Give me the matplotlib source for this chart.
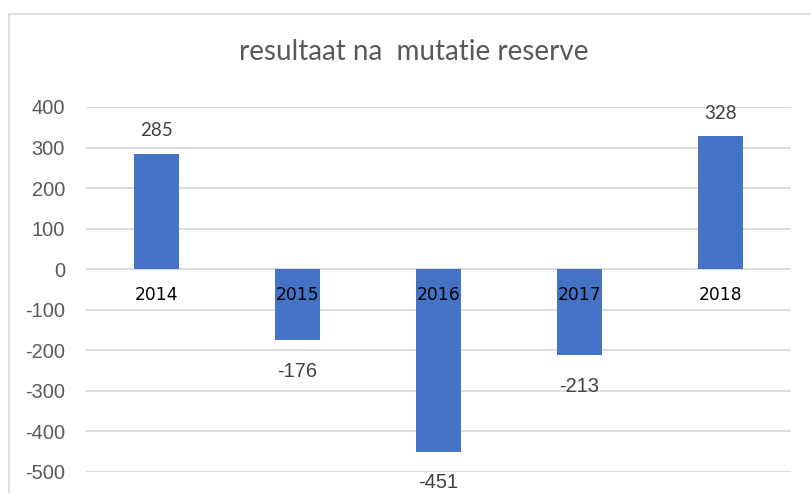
import matplotlib.pyplot as plt
from matplotlib.patches import Rectangle

years = ['2014', '2015', '2016', '2017', '2018']
values = [285, -176, -451, -213, 328]
yticks = [-500, -400, -300, -200, -100, 0, 100, 200, 300, 400]

W, H = 811, 493
fig = plt.figure(figsize=(W / 100, H / 100), dpi=100)
ax = fig.add_axes([86 / W, 1 - 471.7 / H, (791 - 86) / W, (471.7 - 107) / H])

x = range(len(years))
ax.bar(x, values, width=0.32, color='#4472C4', zorder=3)
ax.set_xlim(-0.5, len(years) - 0.5)
ax.set_ylim(-500, 400)
ax.set_yticks(yticks)
ax.set_yticklabels([str(t) for t in yticks], family='Liberation Sans', fontsize=14.4, color='#595959')
ax.tick_params(axis='y', length=0, pad=15)
ax.set_xticks([])
for s in ax.spines.values():
    s.set_visible(False)
for t in yticks:
    ax.axhline(t, color='#D9D9D9', lw=1.3, zorder=1)

# category labels just under the zero line
for i, yr in enumerate(years):
    ax.annotate(yr, (i, 0), xytext=(0, -26), textcoords='offset pixels',
                ha='center', va='center', fontsize=12.3, family='DejaVu Sans',
                color='black', zorder=5, annotation_clip=False)

# data labels
for i, v in enumerate(values):
    if v >= 0:
        ax.annotate(str(v), (i, v), xytext=(0, 23), textcoords='offset pixels',
                    ha='center', va='center', fontsize=13.5, family='Lato',
                    color='#404040', annotation_clip=False)
    else:
        ax.annotate(str(v), (i, v), xytext=(0, -31), textcoords='offset pixels',
                    ha='center', va='center', fontsize=14.4, family='Liberation Sans',
                    color='#404040', annotation_clip=False)

fig.text(414 / W, 1 - 52 / H, 'resultaat na  mutatie reserve', ha='center', va='center',
         fontsize=20, family='Lato', color='#595959')

fig.add_artist(Rectangle((9 / W, -0.1), 1.2, (H - 14) / H + 0.1, transform=fig.transFigure,
                         fill=False, edgecolor='#D9D9D9', lw=1.2))

fig.savefig('out.png', dpi=100)
